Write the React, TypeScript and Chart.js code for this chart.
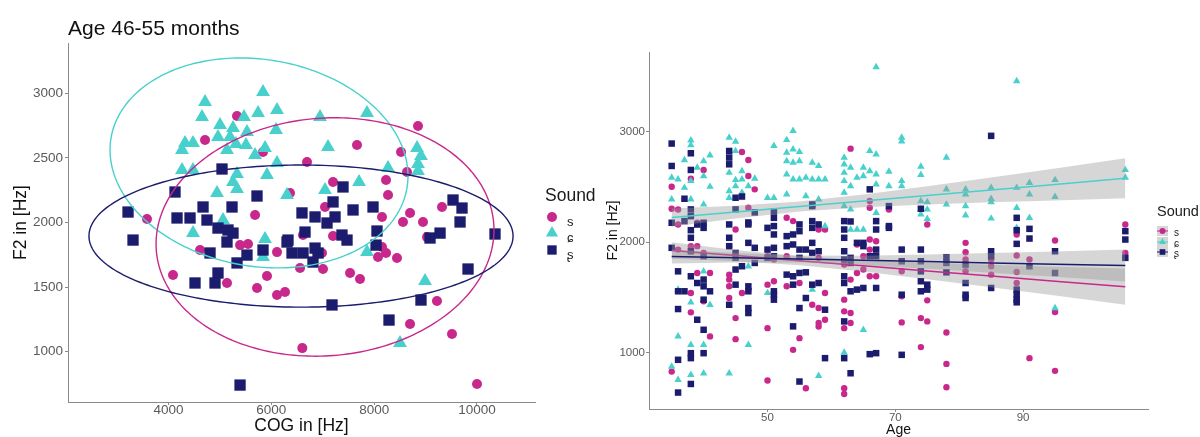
import React, { useEffect, useRef } from "react";
import { Chart, registerables } from "chart.js";

Chart.register(...registerables);

const FONT = "'Liberation Sans', Arial, Helvetica, sans-serif";
const COLOR_S = "#C8288C";
const COLOR_C = "#48D1CC";
const COLOR_SH = "#1C1C6E";
const BAND = "rgba(153,153,153,0.4)";
const AXIS = "#8a8a8a";
const TICK_TEXT = "#5a5a5a";

const soundLabels = ["s", "ɕ", "ʂ"];

// ---------- Left panel: F2 vs COG, age 46-55 months ----------
const leftTitle = "Age 46-55 months";
const leftXTicks = [4000, 6000, 8000, 10000];
const leftYTicks = [1000, 1500, 2000, 2500, 3000];

// [COG, F2]
const leftS = [
  [5332, 2824], [4710, 2639], [5838, 2546], [5683, 2058], [3581, 2027], [6363, 2228], [7666, 2600], [6694, 2468],
  [8853, 2747], [8523, 2546], [8639, 2391], [8231, 2329], [8270, 2213], [7200, 2313], [7044, 2120], [8153, 2043],
  [8698, 2074], [8561, 2004], [8950, 2004], [9028, 1887], [7200, 1895], [6616, 1903], [5391, 1825], [5546, 1833],
  [6110, 1771], [4613, 1787], [6985, 1764], [8153, 1810], [8231, 1764], [8075, 1733], [8444, 1725], [4087, 1594],
  [5137, 1532], [5721, 1493], [5915, 1586], [6110, 1439], [6266, 1462], [6558, 1648], [7005, 1640], [7531, 1609],
  [7725, 1563], [9320, 2120], [9222, 1392], [8698, 1214], [9514, 1137], [10001, 750], [6602, 1028],
];
const leftC = [
  [5838, 3010], [4710, 2933], [4651, 2817], [5468, 2817], [5741, 2848], [6110, 2871], [5002, 2755], [5254, 2731],
  [5526, 2700], [6091, 2716], [4962, 2662], [5196, 2662], [4321, 2615], [4476, 2615], [4262, 2561], [5312, 2607],
  [5507, 2600], [5137, 2561], [5877, 2577], [5683, 2522], [6110, 2461], [4262, 2406], [4476, 2406], [5332, 2375],
  [5915, 2368], [5254, 2313], [5332, 2259], [4943, 2228], [6305, 2213], [6947, 2817], [7861, 2848], [7102, 2584],
  [7044, 2252], [7706, 2313], [8270, 2422], [8834, 2577], [8911, 2515], [8853, 2453], [8853, 2399], [4476, 1918],
  [5060, 2019], [5877, 1872], [5838, 1733], [7861, 1771], [8990, 1547], [8503, 1067],
];
const leftSh = [
  [5040, 2414], [4126, 2236], [5721, 2205], [4671, 2120], [5235, 2120], [3212, 2081], [4165, 2035], [4418, 2035],
  [4748, 2019], [4962, 1957], [5157, 1942], [5254, 1918], [5137, 1849], [7394, 2275], [6596, 2074], [6850, 2043],
  [7083, 1996], [7239, 2043], [7200, 2159], [7589, 2097], [7978, 2120], [6655, 1926], [7374, 1903], [7472, 1864],
  [8055, 1934], [8037, 1825], [6324, 1864], [3309, 1864], [4807, 1764], [5526, 1748], [5838, 1787], [6402, 1764],
  [6616, 1764], [6850, 1802], [6908, 1764], [6810, 1694], [5332, 1687], [4962, 1609], [4515, 1532], [4904, 1532],
  [7180, 1362], [8911, 1400], [8289, 1245], [5391, 742], [6305, 1849], [9087, 1880], [9282, 1918], [10351, 1911],
  [9671, 2004], [9826, 1640], [9534, 2174], [9709, 2112],
];

// confidence ellipses: [centre COG, centre F2, half width COG, F2 shift at widest point, F2 half axis]
const ellipseS = [7044, 1888, 3287, 54, 921];
const ellipseC = [5760, 2461, 2898, -101, 806];
const ellipseSh = [6577, 1895, 4125, 0, 550];

// ---------- Right panel: F2 vs Age ----------
const rightXTicks = [50, 70, 90];
const rightYTicks = [1000, 2000, 3000];

const agesS = [35, 36, 38, 39, 40, 41, 44, 45, 46, 47, 48, 50, 51, 53, 54, 55, 56, 57, 58, 59, 62, 63, 64, 65, 66, 67, 69, 71, 74, 75, 78, 81, 85, 89, 91, 95, 106];
const f2ByAgeS = [
  [2503, 2303, 827], [2297, 2161, 1933], [2576, 1964, 1540, 1364], [2176, 1964, 1721], [2655, 1903, 1464],
  [1721, 1146], [1964, 1706, 1661, 1600, 1494], [2115, 1312, 1121], [2818, 1540], [2745, 2600, 2312, 1570],
  [2479], [1873, 1615, 1221, 746], [1843, 1646], [2221, 1873, 1600], [2191, 1024], [1630, 1130], [676], [1433],
  [2115, 1858, 1403, 1267, 1236], [2115, 1540, 1297], [1797, 1479, 1373, 1221, 676, 624], [2848, 1661, 1358, 1267],
  [1979, 1721], [1873, 1752], [2373, 2312, 2024, 1933, 1691], [2009, 1691], [2297], [1736, 1509, 1273],
  [1312, 1049], [2161, 1473, 1282], [1182, 897, 685], [1994, 1909, 1843, 1736], [1843, 1782, 1706],
  [2070, 1879, 1730, 1630], [1843, 949], [2015, 1367, 834], [2161, 1903],
];

const agesC = [35, 36, 37, 38, 39, 40, 41, 44, 45, 46, 47, 48, 50, 51, 53, 54, 55, 56, 57, 58, 59, 62, 63, 64, 65, 66, 67, 69, 71, 74, 75, 78, 81, 85, 89, 91, 95, 106];
const f2ByAgeC = [
  [2585, 2388, 873], [2570, 1570, 1146, 752], [2745, 2494], [2924, 2879, 2555, 2388, 1455, 1070, 797], [2676],
  [2736, 2600, 2342, 1736, 1070, 812], [2788, 2503, 1433], [2948, 2630, 2464, 2403, 812], [2912, 2827, 2564, 2509],
  [2645, 2570, 2449], [2509, 1782, 1070], [2576], [2403, 1540], [2873, 2403], [2927, 2812, 2736, 2615, 2433],
  [3009, 2842, 2721, 2570], [2818, 2736, 2570], [2585, 2418], [2721, 2570, 1570], [2691, 2570, 2388, 788],
  [2570, 2146], [2767, 2706, 2630, 2555, 2449, 2327, 1000], [2676, 2509, 2297, 2115], [2585, 2115],
  [2676, 2600, 2115, 1206], [2827, 2645], [3588, 2797, 2615, 2524, 2267], [2640, 2509], [2948, 2915, 2555, 2509],
  [2686, 2611, 2373, 2297, 2252], [2364, 2297, 2212], [2767, 2479, 2342], [2479, 2433, 2327, 2243],
  [2494, 2394, 2364, 2215], [3461, 2494, 2312, 2130], [2539, 2433, 2221], [2564, 2412, 1403], [2655, 2585],
];

const agesSh = [35, 36, 37, 38, 39, 40, 41, 44, 45, 46, 47, 48, 50, 51, 53, 54, 55, 56, 57, 58, 59, 62, 63, 64, 65, 66, 67, 69, 71, 74, 75, 78, 81, 85, 89, 91, 95, 106];
const f2ByAgeSh = [
  [2894, 2691, 2176, 1949], [1736, 1555, 1394, 934, 637], [2394, 2191, 1555],
  [2806, 2655, 2297, 2236, 2109, 2040, 1918, 1691, 994, 949, 715], [2160, 1630, 1297],
  [2176, 2130, 1873, 1661, 1600, 1479, 1206, 994], [1555], [2827, 2767, 2706, 2161, 2040, 1964, 1433],
  [2403, 2297, 1903, 1858, 1752, 1615], [2414, 1782], [2179, 2161, 1994, 1600, 1555, 1403, 1358],
  [2270, 1949, 1812], [2130, 1933, 1858], [2279, 2221, 2146, 2070, 1949, 1873, 1555, 1524, 1479],
  [2055, 1964, 1706], [2070, 1979, 1691, 1615, 1237], [2161, 2100, 1933, 1858, 1721, 1403, 737],
  [1933, 1727, 1494], [2342, 2327, 2191, 2130, 1994, 1903, 1615], [2161, 1918, 1630], [1388, 949],
  [2191, 2115, 2040, 1918, 1843, 1691, 1630, 1282, 949], [2188, 1858, 1812, 1555, 812], [1994, 1570],
  [1994, 1964, 1585], [2479, 1873, 985], [2191, 2115, 1933, 1873, 1585, 994], [2327, 2146, 2130],
  [1933, 1827, 1524, 979], [2303, 1933, 1827, 1736, 1646, 1555], [1615, 1570], [1864, 1812, 1727],
  [1797, 1630, 1524, 1494], [2964, 1918, 1873, 1585], [2221, 2109, 1985, 1570, 1524, 1479, 1455],
  [2121, 2033, 1782], [1918, 1721], [2100, 2024, 1858],
];

// linear fits with confidence bands, read at these ages
const fitAges = [35, 45, 55, 65, 75, 85, 95, 106];
const fitS = [1925, 1879, 1832, 1786, 1740, 1694, 1647, 1597];
const hiS = [2000, 1930, 1873, 1837, 1815, 1796, 1778, 1761];
const loS = [1850, 1828, 1791, 1735, 1665, 1592, 1516, 1433];
const fitC = [2223, 2273, 2323, 2374, 2424, 2474, 2524, 2579];
const hiC = [2306, 2331, 2368, 2432, 2507, 2587, 2669, 2760];
const loC = [2140, 2215, 2278, 2316, 2341, 2361, 2379, 2398];
const fitSh = [1870, 1859, 1847, 1836, 1824, 1812, 1801, 1788];
const hiSh = [1934, 1901, 1879, 1878, 1888, 1901, 1916, 1933];
const loSh = [1806, 1817, 1815, 1794, 1760, 1723, 1686, 1643];

// ---------- helpers ----------
function pairsToPts(p: number[][]) {
  return p.map(([x, y]) => ({ x, y }));
}
function columnsToPts(ages: number[], vals: number[][]) {
  const out: { x: number; y: number }[] = [];
  ages.forEach((a, i) => vals[i].forEach((v) => out.push({ x: a, y: v })));
  return out;
}
function lineOf(ys: number[]) {
  return fitAges.map((a, i) => ({ x: a, y: ys[i] }));
}

function drawMarker(ctx: CanvasRenderingContext2D, style: string, x: number, y: number, r: number, color: string) {
  ctx.fillStyle = color;
  ctx.beginPath();
  if (style === "circle") {
    ctx.arc(x, y, r, 0, Math.PI * 2);
  } else if (style === "triangle") {
    ctx.moveTo(x, y - r);
    ctx.lineTo(x + r * 0.866, y + r * 0.5);
    ctx.lineTo(x - r * 0.866, y + r * 0.5);
    ctx.closePath();
  } else {
    const h = r * Math.SQRT1_2;
    ctx.rect(x - h, y - h, 2 * h, 2 * h);
  }
  ctx.fill();
}

const legendPlugin = {
  id: "soundLegend",
  afterDraw(chart: any, _a: any, opts: any) {
    if (!opts || !opts.keyY) return;
    const ctx: CanvasRenderingContext2D = chart.ctx;
    const styles = ["circle", "triangle", "rect"];
    const colors = [COLOR_S, COLOR_C, COLOR_SH];
    ctx.save();
    ctx.textAlign = "left";
    ctx.textBaseline = "middle";
    ctx.fillStyle = "#1a1a1a";
    ctx.font = `${opts.titleSize}px ${FONT}`;
    ctx.fillText("Sound", opts.x, opts.y);
    soundLabels.forEach((lab, i) => {
      const ky = opts.keyY[i];
      if (opts.bg) {
        const [w, h] = opts.bg;
        ctx.fillStyle = BAND;
        ctx.fillRect(opts.keyX - w / 2, ky - h / 2, w, h);
        ctx.strokeStyle = colors[i];
        ctx.lineWidth = 1;
        ctx.beginPath();
        ctx.moveTo(opts.keyX - w / 2, ky);
        ctx.lineTo(opts.keyX + w / 2, ky);
        ctx.stroke();
      }
      drawMarker(ctx, styles[i], opts.keyX, ky, opts.radius[i], colors[i]);
      ctx.fillStyle = "#222";
      ctx.font = `${opts.labelSize}px ${FONT}`;
      ctx.fillText(lab, opts.labelX, ky + opts.labelDy);
    });
    ctx.restore();
  },
};

const cornerTitlePlugin = {
  id: "cornerTitle",
  afterDraw(chart: any, _a: any, opts: any) {
    if (!opts || !opts.text) return;
    const ctx: CanvasRenderingContext2D = chart.ctx;
    ctx.save();
    ctx.fillStyle = "#111";
    ctx.font = `${opts.size}px ${FONT}`;
    ctx.textAlign = "left";
    ctx.textBaseline = "alphabetic";
    ctx.fillText(opts.text, opts.x, opts.y);
    ctx.restore();
  },
};

const ellipsePlugin = {
  id: "ellipses",
  afterDatasetsDraw(chart: any, _a: any, opts: any) {
    if (!opts || !opts.list) return;
    const ctx: CanvasRenderingContext2D = chart.ctx;
    const xs = chart.scales.x;
    const ys = chart.scales.y;
    ctx.save();
    ctx.lineWidth = opts.lineWidth;
    for (const [e, col] of opts.list) {
      const [cx, cy, a, k, b] = e;
      ctx.beginPath();
      for (let i = 0; i <= 240; i++) {
        const t = (i / 240) * Math.PI * 2;
        const px = xs.getPixelForValue(cx + a * Math.cos(t));
        const py = ys.getPixelForValue(cy + k * Math.cos(t) + b * Math.sin(t));
        if (i === 0) ctx.moveTo(px, py);
        else ctx.lineTo(px, py);
      }
      ctx.closePath();
      ctx.strokeStyle = col;
      ctx.stroke();
    }
    ctx.restore();
  },
};

function axisConf(min: number, max: number, ticks: number[], title: string, o: any) {
  return {
    type: "linear",
    min,
    max,
    afterBuildTicks: (s: any) => {
      s.ticks = ticks.map((v) => ({ value: v }));
    },
    afterFit: (s: any) => {
      if (o.width != null) s.width = o.width;
      if (o.height != null) s.height = o.height;
    },
    grid: { display: true, drawOnChartArea: false, drawTicks: true, tickLength: 3, color: AXIS, lineWidth: 1 },
    border: { display: true, color: AXIS, width: 1 },
    ticks: {
      color: TICK_TEXT,
      font: { family: FONT, size: o.tickSize, lineHeight: 1 },
      padding: o.tickPad,
      autoSkip: false,
      maxRotation: 0,
      callback: (v: any) => String(v),
    },
    title: {
      display: true,
      text: title,
      color: "#111",
      font: { family: FONT, size: o.titleSize, lineHeight: o.titleLH },
      padding: o.titlePad,
    },
  };
}

function pointSet(label: string, data: any[], style: string, r: number, color: string, order: number) {
  return {
    label,
    data,
    pointStyle: style,
    pointRadius: r,
    pointHoverRadius: r,
    backgroundColor: color,
    pointBackgroundColor: color,
    borderColor: "rgba(0,0,0,0)",
    pointBorderWidth: 0,
    borderWidth: 0,
    order,
  };
}

function leftConfig(): any {
  return {
    type: "scatter",
    data: {
      datasets: [
        pointSet("s", pairsToPts(leftS), "circle", 5, COLOR_S, 3),
        pointSet("ɕ", pairsToPts(leftC), "triangle", 8, COLOR_C, 2),
        pointSet("ʂ", pairsToPts(leftSh), "rect", 8, COLOR_SH, 1),
      ],
    },
    options: {
      responsive: false,
      animation: false,
      devicePixelRatio: 1,
      events: [],
      layout: { padding: { top: 43, right: 65, bottom: 0, left: 0 } },
      scales: {
        x: axisConf(2044, 11129, leftXTicks, "COG in [Hz]", {
          height: 35, tickSize: 13.5, tickPad: -1, titleSize: 17.5, titleLH: 1.2, titlePad: { top: 0, bottom: 0 },
        }),
        y: axisConf(611, 3389, leftYTicks, "F2 in [Hz]", {
          width: 68, tickSize: 13.5, tickPad: 2, titleSize: 17.5, titleLH: 1.2, titlePad: { top: 10.5, bottom: 0 },
        }),
      },
      plugins: {
        legend: { display: false },
        tooltip: { enabled: false },
        ellipses: {
          lineWidth: 1.4,
          list: [
            [ellipseC, COLOR_C],
            [ellipseS, COLOR_S],
            [ellipseSh, COLOR_SH],
          ],
        },
        cornerTitle: { text: leftTitle, x: 68, y: 35, size: 21 },
        soundLegend: {
          x: 545, y: 196, titleSize: 17.5, keyX: 552, keyY: [217, 233, 250], radius: [5, 7, 6.6],
          labelX: 567, labelDy: 5, labelSize: 13, bg: null,
        },
      },
    },
    plugins: [ellipsePlugin, cornerTitlePlugin, legendPlugin],
  };
}

function bandSets(hi: number[], lo: number[], fit: number[], color: string, order: number) {
  const base = { type: "line", pointRadius: 0, pointHoverRadius: 0, tension: 0 };
  return [
    { ...base, label: "hi", data: lineOf(hi), borderColor: "rgba(0,0,0,0)", borderWidth: 0, fill: false, order: order + 1 },
    { ...base, label: "lo", data: lineOf(lo), borderColor: "rgba(0,0,0,0)", borderWidth: 0, fill: "-1", backgroundColor: BAND, order: order + 1 },
    { ...base, label: "fit", data: lineOf(fit), borderColor: color, borderWidth: 1.5, fill: false, order },
  ];
}

function rightConfig(): any {
  return {
    type: "scatter",
    data: {
      datasets: [
        pointSet("s", columnsToPts(agesS, f2ByAgeS), "circle", 3.2, COLOR_S, 12),
        pointSet("ɕ", columnsToPts(agesC, f2ByAgeC), "triangle", 4.3, COLOR_C, 11),
        pointSet("ʂ", columnsToPts(agesSh, f2ByAgeSh), "rect", 4.6, COLOR_SH, 10),
        ...bandSets(hiS, loS, fitS, COLOR_S, 7),
        ...bandSets(hiC, loC, fitC, COLOR_C, 4),
        ...bandSets(hiSh, loSh, fitSh, COLOR_SH, 1),
      ],
    },
    options: {
      responsive: false,
      animation: false,
      devicePixelRatio: 1,
      events: [],
      layout: { padding: { top: 52, right: 52, bottom: 0, left: 0 } },
      scales: {
        x: axisConf(31.45, 109.55, rightXTicks, "Age", {
          height: 28, tickSize: 11.5, tickPad: 0, titleSize: 14, titleLH: 1, titlePad: { top: 0, bottom: 0 },
        }),
        y: axisConf(488, 3724, rightYTicks, "F2 in [Hz]", {
          width: 49, tickSize: 11.5, tickPad: 1, titleSize: 14, titleLH: 1.2, titlePad: { top: 4.4, bottom: 0 },
        }),
      },
      plugins: {
        legend: { display: false },
        tooltip: { enabled: false },
        soundLegend: {
          x: 557, y: 212, titleSize: 14.5, keyX: 562.5, keyY: [231, 242, 252], radius: [3, 4, 4],
          labelX: 574, labelDy: 2, labelSize: 10, bg: [11, 10],
        },
      },
    },
    plugins: [legendPlugin],
  };
}

function ChartCanvas({ make, left }: { make: () => any; left: number }) {
  const ref = useRef<HTMLCanvasElement | null>(null);
  useEffect(() => {
    if (!ref.current) return;
    const chart = new Chart(ref.current, make());
    return () => chart.destroy();
  }, [make]);
  return (
    <canvas
      ref={ref}
      width={600}
      height={437}
      style={{ position: "absolute", left, top: 0, width: 600, height: 437 }}
    />
  );
}

export default function App() {
  return (
    <div style={{ position: "absolute", left: 0, top: 0, width: 1200, height: 437, background: "#fff", overflow: "hidden" }}>
      <ChartCanvas make={leftConfig} left={0} />
      <ChartCanvas make={rightConfig} left={600} />
    </div>
  );
}
